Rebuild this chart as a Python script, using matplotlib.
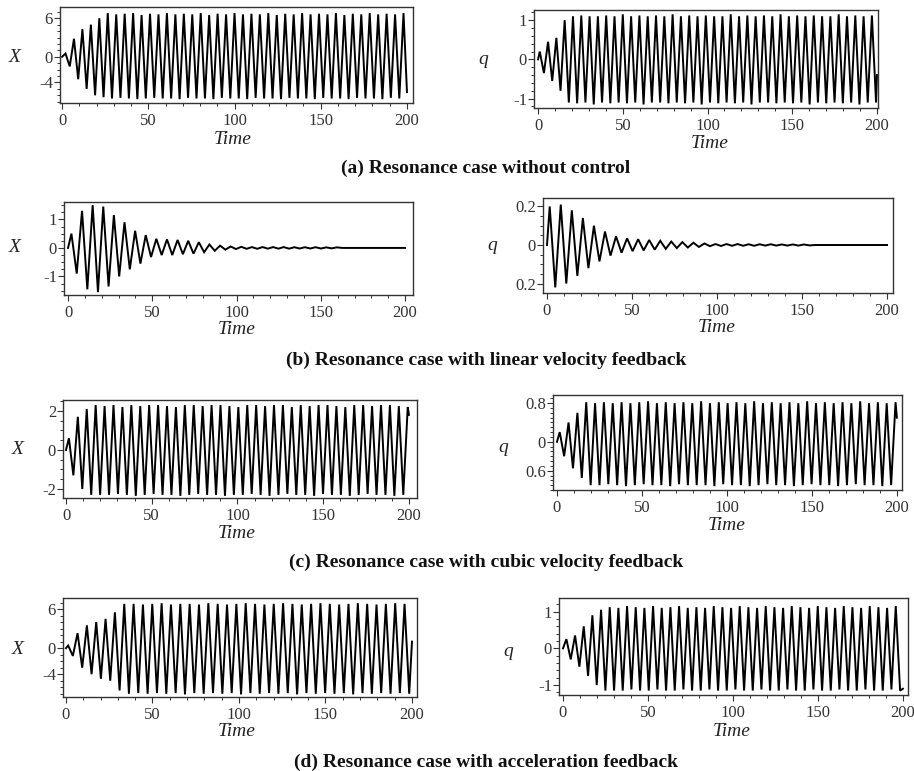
import numpy as np
import matplotlib
matplotlib.use('Agg')
from matplotlib import pyplot as plt
from matplotlib.ticker import MultipleLocator

W, H = 914, 771

# local extrema: first one at t0, then one every half period
# (a) without control
xa_t0, xa_half, xa_end = 2.0, 2.45, -5.5
xa = [0.5, -1.5, 2.8, -3.5, 4.3, -5.0, 5.0, -6.0, 6.0, -6.3,
      6.8, -6.5, 6.6, -6.4, 6.7, -6.5, 6.8, -6.6, 6.5, -6.5,
      6.7, -6.4, 6.6, -6.5, 6.8, -6.5, 6.6, -6.6, 6.7, -6.4,
      6.6, -6.5, 6.8, -6.5, 6.5, -6.6, 6.7, -6.4, 6.6, -6.5,
      6.8, -6.5, 6.6, -6.6, 6.7, -6.4, 6.6, -6.5, 6.8, -6.5,
      6.5, -6.6, 6.7, -6.4, 6.6, -6.5, 6.8, -6.5, 6.6, -6.6,
      6.7, -6.4, 6.6, -6.5, 6.8, -6.5, 6.5, -6.6, 6.7, -6.4,
      6.6, -6.5, 6.8, -6.5, 6.6, -6.6, 6.7, -6.4, 6.6, -6.5,
      6.8]
qa_t0, qa_half, qa_end = 1.0, 2.45, -0.4
qa = [0.2, -0.35, 0.45, -0.55, 0.55, -0.8, 1.0, -1.1, 1.1, -1.12,
      1.12, -1.1, 1.1, -1.15, 1.1, -1.1, 1.12, -1.12, 1.1, -1.1,
      1.15, -1.12, 1.1, -1.1, 1.12, -1.15, 1.1, -1.1, 1.12, -1.1,
      1.1, -1.12, 1.15, -1.1, 1.1, -1.12, 1.12, -1.1, 1.1, -1.15,
      1.12, -1.1, 1.1, -1.12, 1.1, -1.1, 1.15, -1.12, 1.1, -1.1,
      1.12, -1.15, 1.1, -1.1, 1.12, -1.1, 1.1, -1.12, 1.15, -1.1,
      1.1, -1.12, 1.12, -1.1, 1.1, -1.15, 1.12, -1.1, 1.1, -1.12,
      1.1, -1.1, 1.15, -1.12, 1.1, -1.1, 1.12, -1.15, 1.1, -1.1,
      1.12, -1.1]

# (b) linear velocity feedback
xb_t0, xb_half, xb_end = 2.0, 3.15, 0.0
xb = [0.5, -0.9, 1.3, -1.45, 1.5, -1.55, 1.45, -1.35, 1.15, -1.0,
      0.9, -0.75, 0.6, -0.55, 0.45, -0.32, 0.32, -0.25, 0.3, -0.25,
      0.28, -0.22, 0.25, -0.2, 0.2, -0.15, 0.12, -0.1, 0.08, -0.06,
      0.05, -0.04, 0.04, -0.03, 0.03, -0.03, 0.03, -0.025, 0.03, -0.025,
      0.03, -0.025, 0.025, -0.02, 0.025, -0.02, 0.025, -0.02, 0.02, -0.015,
      0.02, 0.0, 0.0, 0.0, 0.0, 0.0, 0.0, 0.0, 0.0, 0.0,
      0.0, 0.0, 0.0]
qb_t0, qb_half, qb_end = 1.6, 3.25, 0.0
qb = [0.2, -0.22, 0.21, -0.2, 0.18, -0.16, 0.14, -0.12, 0.1, -0.085,
      0.07, -0.055, 0.045, -0.04, 0.035, -0.032, 0.03, -0.028, 0.026, -0.024,
      0.022, -0.02, 0.018, -0.016, 0.015, -0.013, 0.012, -0.01, 0.008, -0.006,
      0.005, -0.005, 0.005, -0.004, 0.005, -0.004, 0.004, -0.004, 0.004, -0.003,
      0.004, -0.003, 0.003, -0.003, 0.003, -0.003, 0.003, -0.002, 0.0, 0.0,
      0.0, 0.0, 0.0, 0.0, 0.0, 0.0, 0.0, 0.0, 0.0, 0.0,
      0.0, 0.0]

# (c) cubic velocity feedback
xc_t0, xc_half, xc_end = 1.7, 2.6, 1.8
xc = [0.6, -1.3, 1.7, -2.0, 2.1, -2.3, 2.3, -2.3, 2.25, -2.3,
      2.3, -2.25, 2.2, -2.3, 2.3, -2.35, 2.25, -2.3, 2.3, -2.25,
      2.3, -2.3, 2.25, -2.3, 2.2, -2.35, 2.3, -2.3, 2.3, -2.25,
      2.25, -2.3, 2.3, -2.3, 2.3, -2.35, 2.25, -2.3, 2.2, -2.3,
      2.3, -2.25, 2.3, -2.3, 2.25, -2.35, 2.3, -2.3, 2.3, -2.25,
      2.2, -2.3, 2.3, -2.3, 2.25, -2.35, 2.3, -2.25, 2.3, -2.3,
      2.25, -2.3, 2.2, -2.35, 2.3, -2.3, 2.3, -2.25, 2.25, -2.3,
      2.3, -2.3, 2.3, -2.35, 2.25, -2.3, 2.2]
qc_t0, qc_half, qc_end = 1.6, 2.6, 0.5
qc = [0.2, -0.3, 0.4, -0.55, 0.6, -0.75, 0.82, -0.9, 0.8, -0.9,
      0.82, -0.88, 0.8, -0.9, 0.82, -0.92, 0.8, -0.9, 0.82, -0.88,
      0.84, -0.9, 0.8, -0.9, 0.82, -0.92, 0.8, -0.88, 0.82, -0.9,
      0.8, -0.9, 0.84, -0.9, 0.8, -0.92, 0.82, -0.88, 0.8, -0.9,
      0.82, -0.9, 0.8, -0.92, 0.84, -0.9, 0.8, -0.88, 0.82, -0.9,
      0.8, -0.9, 0.82, -0.92, 0.8, -0.9, 0.84, -0.88, 0.8, -0.9,
      0.82, -0.9, 0.8, -0.92, 0.82, -0.9, 0.8, -0.88, 0.84, -0.9,
      0.8, -0.9, 0.82, -0.92, 0.8, -0.9, 0.82]

# (d) acceleration feedback
xd_t0, xd_half, xd_end = 1.3, 2.7, 1.0
xd = [0.4, -1.2, 2.3, -3.0, 3.5, -4.0, 4.0, -4.7, 4.5, -5.0,
      5.5, -6.5, 6.8, -7.0, 6.8, -6.9, 6.7, -7.0, 6.8, -6.9,
      6.9, -7.0, 6.7, -6.9, 6.8, -7.1, 6.8, -6.9, 6.7, -7.0,
      6.9, -6.9, 6.8, -7.0, 6.7, -6.9, 6.8, -7.1, 6.9, -6.9,
      6.8, -7.0, 6.7, -6.9, 6.8, -7.0, 6.9, -6.9, 6.8, -7.1,
      6.7, -6.9, 6.8, -7.0, 6.9, -6.9, 6.8, -7.0, 6.7, -6.9,
      6.8, -7.1, 6.9, -6.9, 6.8, -7.0, 6.7, -6.9, 6.8, -7.0,
      6.9, -6.9, 6.8, -7.0]
qd_t0, qd_half, qd_end = 2.0, 2.55, -1.1
qd = [0.25, -0.3, 0.35, -0.5, 0.6, -0.75, 0.9, -1.0, 1.05, -1.15,
      1.12, -1.15, 1.1, -1.15, 1.15, -1.12, 1.12, -1.15, 1.1, -1.15,
      1.15, -1.12, 1.1, -1.15, 1.12, -1.15, 1.15, -1.12, 1.1, -1.15,
      1.12, -1.15, 1.1, -1.12, 1.15, -1.15, 1.12, -1.15, 1.1, -1.12,
      1.15, -1.15, 1.12, -1.15, 1.1, -1.12, 1.15, -1.15, 1.12, -1.15,
      1.1, -1.12, 1.15, -1.15, 1.12, -1.15, 1.1, -1.12, 1.15, -1.15,
      1.12, -1.15, 1.1, -1.12, 1.15, -1.15, 1.12, -1.15, 1.1, -1.12,
      1.15, -1.15, 1.12, -1.15, 1.1, -1.12, 1.15, -1.15]

x_ticks = [0, 50, 100, 150, 200]
captions = ['(a) Resonance case without control',
            '(b) Resonance case with linear velocity feedback',
            '(c) Resonance case with cubic velocity feedback',
            '(d) Resonance case with acceleration feedback']

serif = 'Liberation Serif'
plt.rcParams['font.family'] = serif
fig = plt.figure(figsize=(W / 100, H / 100), dpi=100)


def trace(t0, half, vals, end):
    t = t0 + half * np.arange(len(vals))
    v = np.array(vals)
    keep = t < 200
    return (np.concatenate([[0], t[keep], [200]]),
            np.concatenate([[0], v[keep], [end]]))


def panel(box, xlim, ylim, t, v, yticks, ylabels, yminor, name, name_xy, time_xy):
    x0, y0, x1, y1 = box
    ax = fig.add_axes([x0 / W, 1 - y1 / H, (x1 - x0) / W, (y1 - y0) / H])
    ax.plot(t, v, color='black', lw=1.4, solid_joinstyle='miter')
    ax.set_xlim(*xlim)
    ax.set_ylim(*ylim)
    ax.set_xticks(x_ticks)
    ax.xaxis.set_minor_locator(MultipleLocator(10))
    ax.set_yticks(yticks)
    ax.set_yticklabels(ylabels)
    ax.yaxis.set_minor_locator(MultipleLocator(yminor))
    ax.tick_params(which='both', direction='out', colors='#333333',
                   labelsize=12, top=False, right=False)
    ax.tick_params(axis='x', pad=3)
    ax.tick_params(axis='y', pad=1)
    ax.tick_params(which='major', length=4, width=0.8)
    ax.tick_params(which='minor', length=2.5, width=0.7)
    for s in ax.spines.values():
        s.set_color('#333333')
        s.set_linewidth(1.0)
    fig.text(name_xy[0] / W, 1 - name_xy[1] / H, name, style='italic',
             fontsize=14, ha='center', va='center', color='#222222')
    fig.text(time_xy[0] / W, 1 - time_xy[1] / H, 'Time', style='italic',
             fontsize=14, ha='center', va='center', color='#222222')
    return ax


panel((60, 7, 413, 103), (-1.2, 203.5), (-7.2, 7.75), *trace(xa_t0, xa_half, xa, xa_end),
      [6, 0, -4], ['6', '0', '-4'], 1, 'X', (15, 57), (233, 140))
panel((534, 10, 878, 108), (-2.4, 200.6), (-1.24, 1.26), *trace(qa_t0, qa_half, qa, qa_end),
      [1, 0, -1], ['1', '0', '-1'], 0.2, 'q', (483, 60), (710, 143))

panel((64, 202, 413, 295), (-2.4, 204.7), (-1.65, 1.61), *trace(xb_t0, xb_half, xb, xb_end),
      [1, 0, -1], ['1', '0', '-1'], 0.25, 'X', (15, 248), (237, 330))
panel((543, 198, 893, 293), (-2.35, 203.5), (-0.249, 0.244), *trace(qb_t0, qb_half, qb, qb_end),
      [0.2, 0, -0.2], ['0.2', '0', '0.2'], 0.05, 'q', (492, 245), (717, 327))

panel((63, 400, 417, 498), (-1.75, 204.7), (-2.46, 2.56), *trace(xc_t0, xc_half, xc, xc_end),
      [2, 0, -2], ['2', '0', '-2'], 0.5, 'X', (18, 450), (237, 533))
panel((553, 395, 902, 490), (-2.35, 203), (-1.0, 0.97), *trace(qc_t0, qc_half, qc, qc_end),
      [0.8, 0, -0.6], ['0.8', '0', '0.6'], 0.1, 'q', (503, 447), (727, 525))

panel((63, 598, 417, 697), (-1.7, 202.9), (-7.5, 7.7), *trace(xd_t0, xd_half, xd, xd_end),
      [6, 0, -4], ['6', '0', '-4'], 1, 'X', (18, 650), (237, 732))
panel((559, 598, 908, 695), (-2.35, 203), (-1.27, 1.37), *trace(qd_t0, qd_half, qd, qd_end),
      [1, 0, -1], ['1', '0', '-1'], 0.2, 'q', (508, 652), (732, 732))

for cap, y in zip(captions, [168, 360, 562, 762]):
    fig.text(486 / W, 1 - y / H, cap, fontsize=14, fontweight='bold',
             ha='center', va='center', color='#111111')

fig.savefig('out.png', dpi=100)
